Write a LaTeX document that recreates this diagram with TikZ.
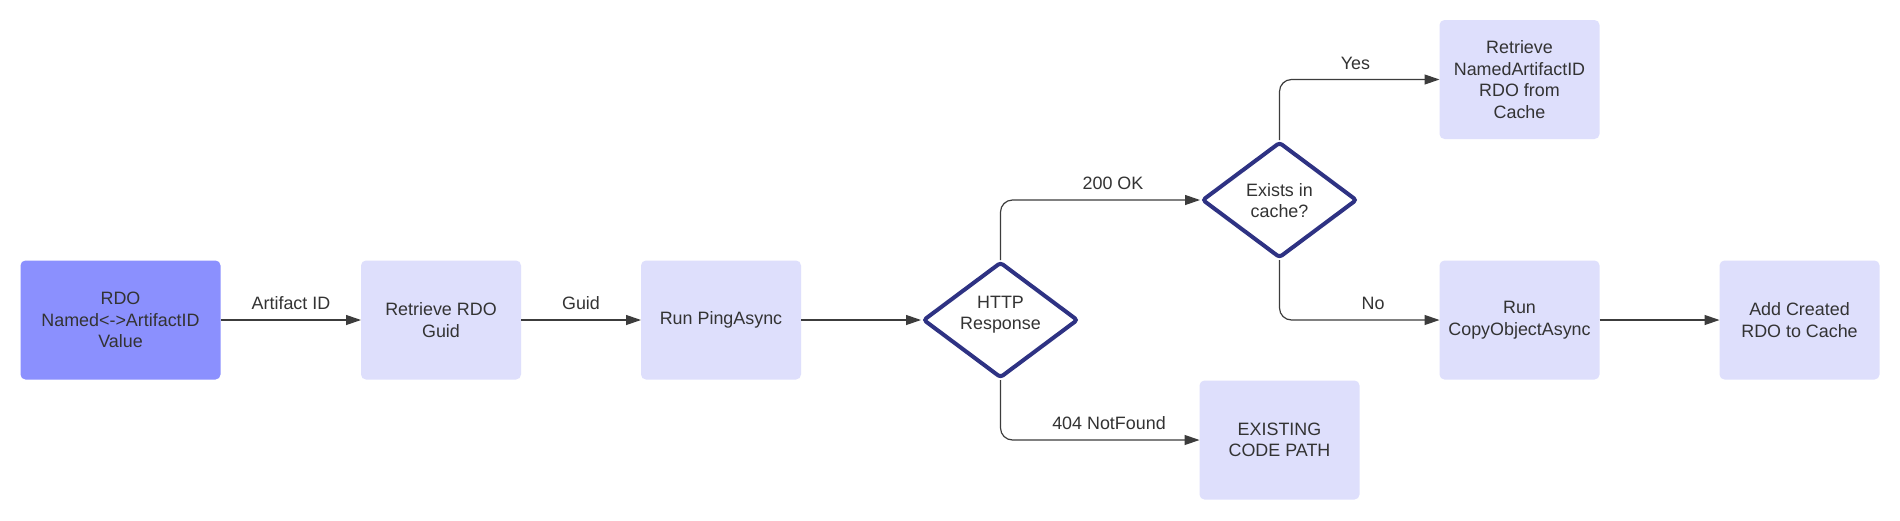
\documentclass[tikz,border=0pt]{standalone}
\usepackage{fontspec}
\setmainfont{Liberation Sans}
\usetikzlibrary{shapes.geometric,arrows.meta}
\definecolor{darkbox}{HTML}{8B90FE}
\definecolor{litebox}{HTML}{DEDFFC}
\definecolor{navy}{HTML}{2E3283}
\definecolor{txt}{HTML}{333333}
\definecolor{ln}{HTML}{3C3C3C}
\begin{document}
\begin{tikzpicture}[x=1pt,y=-1pt,
 every node/.style={font=\fontsize{17.9}{21.5}\selectfont, text=txt},
 boxn/.style={rectangle, rounded corners=5pt, fill=litebox, minimum width=160pt, minimum height=119pt, inner sep=0pt, outer sep=0pt, align=center},
 dia/.style={diamond, draw=navy, line width=4pt, rounded corners=3pt, minimum width=155pt, minimum height=116pt, inner sep=0pt, fill=white},
 diatext/.style={align=center, inner sep=0pt},
 conn/.style={draw=ln, line width=1.2pt, -{Triangle[length=15pt,width=10pt]}, rounded corners=12pt},
 lbl/.style={anchor=base, inner sep=0pt}
]
\fill[white] (0,0) rectangle (1900,520);
\useasboundingbox (0,0) rectangle (1900,520);

\node[boxn, fill=darkbox, minimum width=200pt] (rdo) at (120.5,320) {RDO\\Named<->ArtifactID\\Value};
\node[boxn] (guid) at (441,320) {Retrieve RDO\\Guid};
\node[boxn] (ping) at (721,320) {Run PingAsync};
\node[dia] (http) at (1000.5,320) {};
\node[diatext] (httpT) at (1000.5,314.5) {HTTP\\Response};
\node[dia] (exists) at (1279.5,200) {};
\node[diatext] (existsT) at (1279.5,200.5) {Exists in\\cache?};
\node[boxn] (named) at (1519.5,79.5) {Retrieve\\NamedArtifactID\\RDO from\\Cache};
\node[boxn] (copy) at (1519.5,320) {Run\\CopyObjectAsync};
\node[boxn] (add) at (1799.5,320) {Add Created\\RDO to Cache};
\node[boxn] (exist) at (1279.5,440) {EXISTING\\CODE PATH};

\draw[conn] (rdo.east) -- (guid.west);
\draw[conn] (guid.east) -- (ping.west);
\draw[conn] (ping.east) -- (http.west);
\draw[conn] (http.north) |- (exists.west);
\draw[conn] (exists.north) |- (named.west);
\draw[conn] (exists.south) |- (copy.west);
\draw[conn] (http.south) |- (exist.west);
\draw[conn] (copy.east) -- (add.west);

\node[lbl] (lArt) at (291,309) {Artifact ID};
\node[lbl] (lGuid) at (581,309) {Guid};
\node[lbl] (l200) at (1113,189) {200 OK};
\node[lbl] (lYes) at (1355.5,69) {Yes};
\node[lbl] (lNo) at (1373,309) {No};
\node[lbl] (l404) at (1109,429) {404 NotFound};
\end{tikzpicture}
\end{document}
